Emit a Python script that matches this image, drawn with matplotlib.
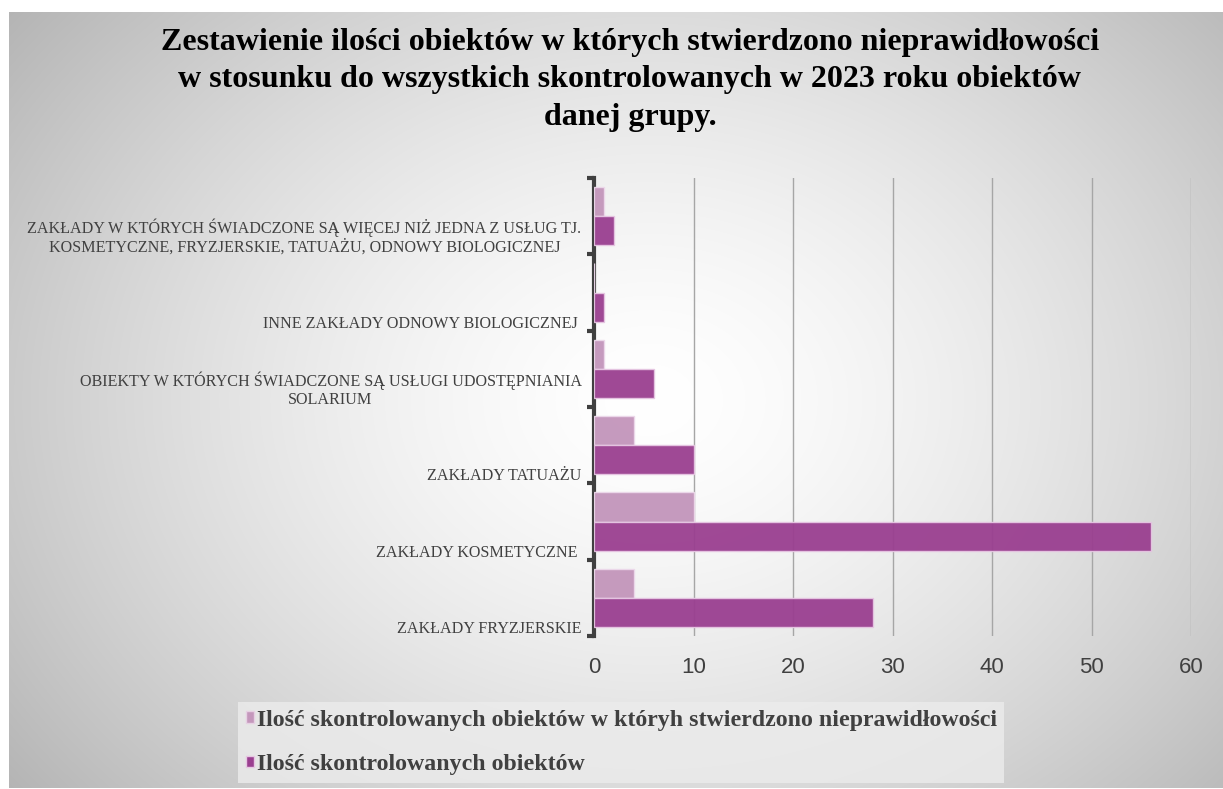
import numpy as np
import matplotlib
matplotlib.use('Agg')
import matplotlib.pyplot as plt
from matplotlib.patches import Patch

# dane (od dołu wykresu)
kategorie = [
    'ZAKŁADY FRYZJERSKIE',
    'ZAKŁADY KOSMETYCZNE ',
    'ZAKŁADY TATUAŻU',
    'OBIEKTY W KTÓRYCH ŚWIADCZONE SĄ USŁUGI UDOSTĘPNIANIA\nSOLARIUM',
    'INNE ZAKŁADY ODNOWY BIOLOGICZNEJ ',
    'ZAKŁADY W KTÓRYCH ŚWIADCZONE SĄ WIĘCEJ NIŻ JEDNA Z USŁUG TJ.\nKOSMETYCZNE, FRYZJERSKIE, TATUAŻU, ODNOWY BIOLOGICZNEJ',
]
nieprawidlowosci = [4, 10, 4, 1, 0, 1]
skontrolowane = [28, 56, 10, 6, 1, 2]

seria1 = 'Ilość skontrolowanych obiektów w któryh stwierdzono nieprawidłowości'
seria2 = 'Ilość skontrolowanych obiektów'
tytul = ('Zestawienie ilości obiektów w których stwierdzono nieprawidłowości\n'
         'w stosunku do wszystkich skontrolowanych w 2023 roku obiektów\n'
         'danej grupy.')

jasny = '#C497BC'
ciemny = '#9A3F90'

W, H = 1223, 789
fig = plt.figure(figsize=(W / 100, H / 100), dpi=100)

# tło - gradient radialny
bg = fig.add_axes([0, 0, 1, 1])
yy, xx = np.mgrid[0:H, 0:W]
r = np.sqrt(((xx - 650) / 700.0) ** 2 + ((yy - 400) / 550.0) ** 2)
val = 255 - 60 * np.minimum(r, 1.4) ** 1.5
img = np.dstack([val, val, val]) / 255.0
img[:12, :, :] = 1.0
img[:, :9, :] = 1.0
img[788:, :, :] = 1.0
bg.imshow(img, aspect='auto', extent=[0, W, H, 0])
bg.set_axis_off()

ax = fig.add_axes([594 / W, 1 - 636 / H, (1191 - 594) / W, (636 - 178) / H])
ax.patch.set_alpha(0)

y = np.arange(len(kategorie))
h = 0.38
ax.barh(y + 0.19, nieprawidlowosci, height=h, color=jasny, edgecolor='#ecd8ea',
        linewidth=1, alpha=0.97, zorder=3)
ax.barh(y - 0.19, skontrolowane, height=h, color=ciemny, edgecolor='#e6c6e2',
        linewidth=1, alpha=0.95, zorder=3)

ax.set_xlim(0, 60)
ax.set_ylim(-0.5, len(kategorie) - 0.5)
ax.set_xticks(np.arange(0, 61, 10))
ax.grid(axis='x', color='#a6a6a6', linewidth=1, zorder=0)
ax.tick_params(axis='x', length=0, pad=15, labelsize=16, labelcolor='#404040')
for lab in ax.get_xticklabels():
    lab.set_fontfamily('Liberation Sans')

ax.set_yticks(np.arange(-0.5, len(kategorie), 1.0))
ax.set_yticklabels([])
ax.tick_params(axis='y', length=5, width=3, color='#404040', direction='out')
for s in ['top', 'right', 'bottom']:
    ax.spines[s].set_visible(False)
ax.spines['left'].set_linewidth(3)
ax.spines['left'].set_color('#404040')

for i, k in enumerate(kategorie):
    ax.annotate(k, xy=(0, i - 0.5), xycoords=('axes fraction', 'data'),
                xytext=(-9, -0.8), textcoords='offset points', ha='right', va='bottom',
                multialignment='center', fontsize=11.6, family='Liberation Serif',
                color='#404040', linespacing=1.15)

fig.text(0.515, 1 - 28 / H, tytul, ha='center', va='top', fontsize=23,
         fontweight='bold', family='Liberation Serif', color='black', linespacing=1.38)

uchwyty = [Patch(facecolor=jasny, edgecolor='#e6d0e3'),
           Patch(facecolor=ciemny, edgecolor='#e6c6e2')]
leg = fig.legend(uchwyty, [seria1, seria2], loc='upper left',
                 bbox_to_anchor=(238 / W, 1 - 702 / H), frameon=True,
                 prop={'family': 'Liberation Serif', 'weight': 'bold', 'size': 17.2},
                 handlelength=0.36, handleheight=0.36, handletextpad=0.1,
                 labelspacing=0.98, borderpad=0.32, borderaxespad=0, labelcolor='#404040')
leg.get_frame().set_facecolor('#ececec')
leg.get_frame().set_edgecolor('none')
leg.get_frame().set_alpha(0.8)
leg.get_frame().set_boxstyle('square', pad=0)

fig.savefig('out.png', dpi=100)
